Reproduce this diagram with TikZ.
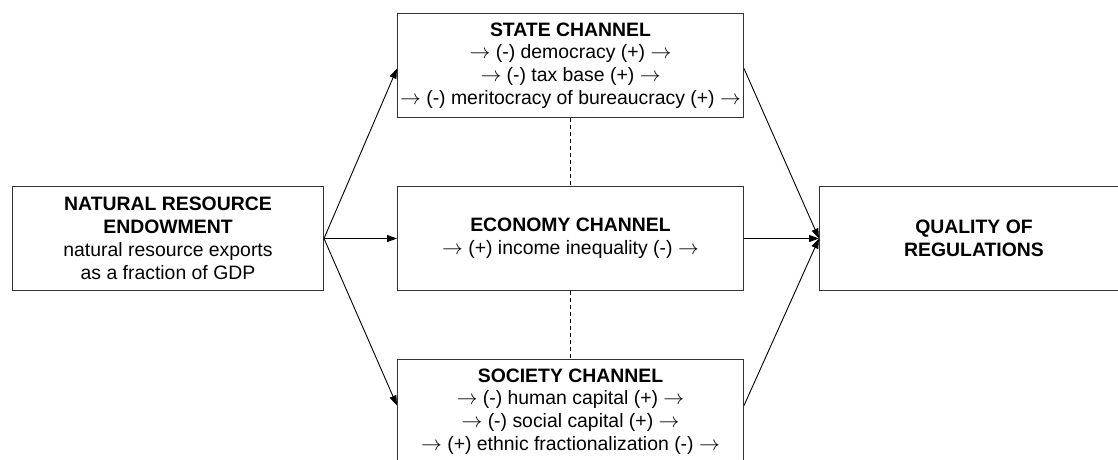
\documentclass[tikz,border=0pt]{standalone}
\usepackage{fontspec}
\setmainfont{Liberation Sans}
\usetikzlibrary{arrows.meta}
\begin{document}
\begin{tikzpicture}[x=1pt,y=-1pt,
 box/.style={draw=black!80, line width=1pt, anchor=north west, inner sep=0pt, align=center,
   minimum height=104pt, font=\fontsize{19.4}{22.8}\selectfont},
 conn/.style={line width=0.9pt, -{Triangle[length=10pt,width=7pt]}},
 link/.style={line width=0.9pt, dash pattern=on 4pt off 3pt}]
\path[use as bounding box, clip] (0,0) rectangle (1118,459);
\node[box, minimum width=311pt] (nre) at (12,186)
  {\textbf{NATURAL RESOURCE}\\\textbf{ENDOWMENT}\\natural resource exports\\as a fraction of GDP};
\node[box, minimum width=346pt] (state) at (397,13)
  {\textbf{STATE CHANNEL}\\$\rightarrow$ (-) democracy (+) $\rightarrow$\\$\rightarrow$ (-) tax base (+) $\rightarrow$\\$\rightarrow$ (-) meritocracy of bureaucracy (+) $\rightarrow$};
\node[box, minimum width=346pt] (econ) at (397,186)
  {\textbf{ECONOMY CHANNEL}\\$\rightarrow$ (+) income inequality (-) $\rightarrow$};
\node[box, minimum width=346pt] (soc) at (397,359)
  {\textbf{SOCIETY CHANNEL}\\$\rightarrow$ (-) human capital (+) $\rightarrow$\\$\rightarrow$ (-) social capital (+) $\rightarrow$\\$\rightarrow$ (+) ethnic fractionalization (-) $\rightarrow$};
\node[box, minimum width=309pt] (qr) at (819,186)
  {\textbf{QUALITY OF}\\\textbf{REGULATIONS}};
\draw[conn] (nre.east) -- ([yshift=-3pt]state.west);
\draw[conn] (nre.east) -- (econ.west);
\draw[conn] (nre.east) -- ([yshift=6pt]soc.west);
\draw[conn] ([yshift=-3pt]state.east) -- (qr.west);
\draw[conn] (econ.east) -- (qr.west);
\draw[conn] ([yshift=6pt]soc.east) -- (qr.west);
\draw[link] (state.south) -- (econ.north);
\draw[link] (econ.south) -- (soc.north);
\end{tikzpicture}
\end{document}
